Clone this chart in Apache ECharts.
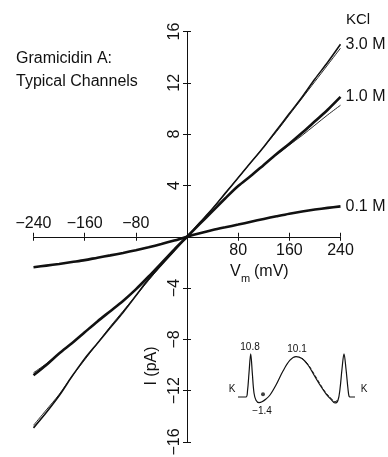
<!DOCTYPE html>
<html><head><meta charset="utf-8">
<script src="https://cdn.jsdelivr.net/npm/echarts@6/dist/echarts.min.js"></script>
<style>html,body{margin:0;padding:0;background:#fff}#c{width:388px;height:457px}</style>
</head><body><div id="c"></div>
<script>
// ---- data ----
var voltages = [-240,-220,-200,-180,-160,-140,-120,-100,-80,-60,-40,-20,0,20,40,60,80,100,120,140,160,180,200,220,240];
var kcl3 = [-14.9,-13.7,-12.4,-10.9,-9.5,-8.3,-7.1,-5.9,-4.6,-3.3,-2.2,-1.1,0,1.1,2.2,3.4,4.6,5.8,7.0,8.3,9.6,10.9,12.3,13.6,15.0];
var kcl3Fit = [-14.7,-13.5,-12.3,-10.9,-9.6,-8.3,-7.0,-5.8,-4.6,-3.4,-2.2,-1.1,0,1.1,2.2,3.4,4.6,5.8,7.0,8.2,9.5,10.8,12.1,13.4,14.7];
var kcl1 = [-10.8,-10.0,-9.1,-8.3,-7.45,-6.6,-5.8,-5.0,-4.1,-3.1,-2.05,-1.0,0,1.0,2.0,3.0,3.95,4.75,5.6,6.45,7.25,8.1,9.0,9.9,10.9];
var kcl1Fit = [-10.6,-9.9,-9.1,-8.3,-7.45,-6.6,-5.8,-5.0,-4.1,-3.1,-2.05,-1.0,0,1.0,2.0,3.0,3.95,4.75,5.6,6.4,7.15,7.9,8.7,9.5,10.25];
var kcl01 = [-2.38,-2.25,-2.12,-1.97,-1.82,-1.63,-1.45,-1.26,-1.05,-0.82,-0.57,-0.3,0,0.27,0.52,0.74,0.95,1.17,1.39,1.6,1.8,1.97,2.12,2.25,2.37];
var seriesNames = ['3.0 M','1.0 M','0.1 M'];
var xTicks = {min:-240, max:240, step:80};
var yTicks = {min:-16, max:16, step:4};
// energy profile inset (position along channel, energy)
var profileX = [0,8,9.5,11,12.7,14.3,16,18,21,24,28,32,38,45,52,58,64,70,76,82,88,93,97,100,102,104,106,108,110,111,112,117];
var profileE = [0,0,1.5,6,10.8,6,1,-0.8,-1.4,-1.2,-0.5,0.5,3,6.5,9.2,10.1,9.6,8,5.5,3,0.8,-0.6,-1.5,-0.8,2,7,10.8,7,2,0.2,0,0];
var profile2X = [64,70,76,82,88,93,97,100];
var profile2E = [9.7,8.2,5.8,3.3,1.0,-0.3,-1.2,-0.6];
var ionSite = [[25,0.7]];
var barrierLabels = ['10.8','10.1','\u22121.4'];

function pairs(xs, ys){ return xs.map(function(x,i){ return [x, ys[i]]; }); }
function minus(v){ return v < 0 ? '\u2212' + Math.abs(v) : String(v); }

var FONT = 'Liberation Sans, Arial, Helvetica, sans-serif';
var black = '#111';

// main plot box
var G = {left:33.5, width:307, top:31.5, height:410.5};
var xShift = -(G.width/2);   // move vertical axes to x = 0
var yShift = -(G.height/2);  // move horizontal axes to y = 0

var chart = echarts.init(document.getElementById('c'), null, {renderer:'canvas'});
function ax(extra){
  var base = {
    type:'value', gridIndex:0,
    axisLine:{onZero:false, lineStyle:{color:black, width:1}},
    axisTick:{length:4, lineStyle:{color:black, width:1}},
    splitLine:{show:false},
    axisLabel:{color:black, fontFamily:FONT, fontSize:16}
  };
  return echarts.util.merge(base, extra, true);
}

var dataLine = function(name, data, w){
  return {type:'line', name:name, data:data, xAxisIndex:0, yAxisIndex:0, smooth:0.3,
    showSymbol:false, lineStyle:{color:black, width:w}, z:3,
    endLabel:{show:true, formatter:'{a}', color:black, fontFamily:FONT, fontSize:16, distance:5}};
};
var fitLine = function(data){
  return {type:'line', data:data, xAxisIndex:0, yAxisIndex:0, smooth:0.3, showSymbol:false,
    lineStyle:{color:black, width:0.9}, z:2, silent:true};
};

chart.setOption({
  animation:false,
  backgroundColor:'#fff',
  textStyle:{fontFamily:FONT},
  title:{text:'Gramicidin A:\nTypical Channels', left:11, top:42,
    textStyle:{fontFamily:FONT, fontSize:16, fontWeight:'normal', color:black, lineHeight:23}},
  grid:[
    {left:G.left, width:G.width, top:G.top, height:G.height, containLabel:false, outerBoundsMode:'none'},
    {left:238, width:119, top:349, height:60, containLabel:false, outerBoundsMode:'none'}
  ],
  xAxis:[
    ax({position:'bottom', offset:yShift, min:xTicks.min, max:xTicks.max, interval:xTicks.step,
      axisLabel:{margin:6, formatter:function(v){ return v>0 ? String(v) : ''; }}}),
    ax({position:'top', offset:yShift, min:xTicks.min, max:xTicks.max, interval:xTicks.step,
      axisLabel:{margin:5, formatter:function(v){ return v<0 ? minus(v) : ''; }}}),
    {gridIndex:1, type:'value', min:0, max:119, show:false}
  ],
  yAxis:[
    ax({position:'left', offset:xShift, min:yTicks.min, max:yTicks.max, interval:yTicks.step,
      axisLabel:{rotate:90, margin:4, formatter:function(v){ return v!==0 ? minus(v) : ''; }}}),
    ax({position:'right', offset:xShift, min:yTicks.min, max:yTicks.max, interval:yTicks.step,
      axisLabel:{show:false}}),
    {gridIndex:1, type:'value', min:-3, max:12, show:false}
  ],
  graphic:[
    {type:'text', left:346, top:12, style:{text:'KCl', font:'15px '+FONT, fill:black}},
    {type:'text', x:152, y:366, rotation:Math.PI/2, style:{text:'I (pA)', font:'16px '+FONT, fill:black, align:'center', verticalAlign:'middle'}},
    {type:'text', x:230, y:272, style:{text:'V', font:'16px '+FONT, fill:black, verticalAlign:'middle'}},
    {type:'text', x:241, y:279, style:{text:'m', font:'11px '+FONT, fill:black, verticalAlign:'middle'}},
    {type:'text', x:254, y:272, style:{text:'(mV)', font:'16px '+FONT, fill:black, verticalAlign:'middle'}},
    {type:'text', x:232, y:389, style:{text:'K', font:'10px '+FONT, fill:black, align:'center', verticalAlign:'middle'}},
    {type:'text', x:364, y:389, style:{text:'K', font:'10px '+FONT, fill:black, align:'center', verticalAlign:'middle'}},
    {type:'text', x:250, y:347, style:{text:barrierLabels[0], font:'10px '+FONT, fill:black, align:'center', verticalAlign:'middle'}},
    {type:'text', x:297, y:349, style:{text:barrierLabels[1], font:'10px '+FONT, fill:black, align:'center', verticalAlign:'middle'}},
    {type:'text', x:262, y:411, style:{text:barrierLabels[2], font:'10px '+FONT, fill:black, align:'center', verticalAlign:'middle'}}
  ],
  series:[
    fitLine(pairs(voltages, kcl3Fit)),
    fitLine(pairs(voltages, kcl1Fit)),
    dataLine(seriesNames[0], pairs(voltages, kcl3), 1.6),
    dataLine(seriesNames[1], pairs(voltages, kcl1), 2.6),
    dataLine(seriesNames[2], pairs(voltages, kcl01), 2.6),
    {type:'line', data:pairs(profileX, profileE), xAxisIndex:2, yAxisIndex:2, smooth:0.35, showSymbol:false,
      lineStyle:{color:black, width:1.2}},
    {type:'line', data:pairs(profile2X, profile2E), xAxisIndex:2, yAxisIndex:2, smooth:0.35, showSymbol:false,
      lineStyle:{color:black, width:0.9, type:'dashed'}},
    {type:'scatter', data:ionSite, xAxisIndex:2, yAxisIndex:2, symbolSize:4, itemStyle:{color:black}}
  ]
});
</script></body></html>
